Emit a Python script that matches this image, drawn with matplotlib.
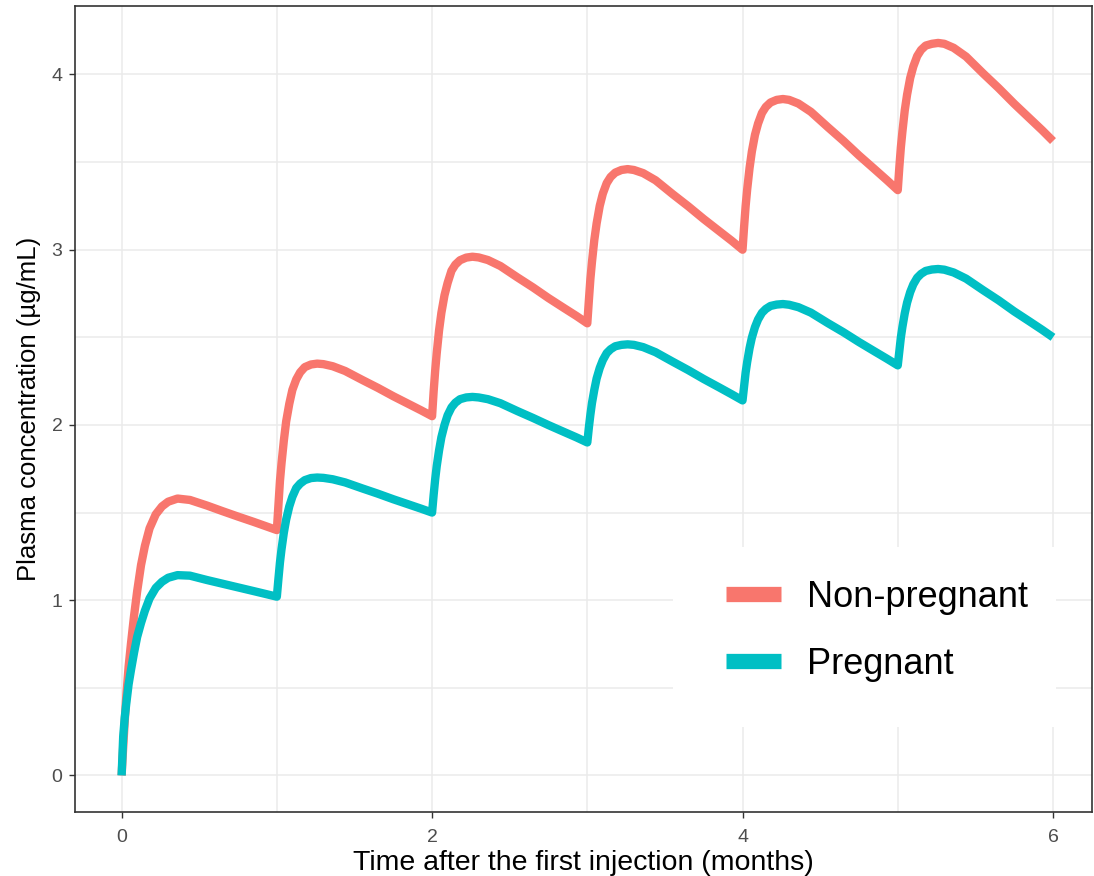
import matplotlib
matplotlib.use("Agg")
import matplotlib.pyplot as plt
from matplotlib.lines import Line2D
from matplotlib.patches import Rectangle
from matplotlib.ticker import MultipleLocator

# time after first injection (months)
months = [0.00, 0.01, 0.02, 0.03, 0.045, 0.06, 0.08, 0.10, 0.125, 0.15, 0.18, 0.22, 0.26, 0.30, 0.36, 0.44, 0.55, 0.65, 0.75, 0.85, 0.93,
          1.00, 1.01, 1.02, 1.03, 1.045, 1.06, 1.08, 1.10, 1.125, 1.15, 1.18, 1.22, 1.26, 1.30, 1.36, 1.44, 1.55, 1.65, 1.75, 1.85, 1.93,
          2.00, 2.01, 2.02, 2.03, 2.045, 2.06, 2.08, 2.10, 2.125, 2.15, 2.18, 2.22, 2.26, 2.30, 2.36, 2.44, 2.55, 2.65, 2.75, 2.85, 2.93,
          3.00, 3.01, 3.02, 3.03, 3.045, 3.06, 3.08, 3.10, 3.125, 3.15, 3.18, 3.22, 3.26, 3.30, 3.36, 3.44, 3.55, 3.65, 3.75, 3.85, 3.93,
          4.00, 4.01, 4.02, 4.03, 4.045, 4.06, 4.08, 4.10, 4.125, 4.15, 4.18, 4.22, 4.26, 4.30, 4.36, 4.44, 4.55, 4.65, 4.75, 4.85, 4.93,
          5.00, 5.01, 5.02, 5.03, 5.045, 5.06, 5.08, 5.10, 5.125, 5.15, 5.18, 5.22, 5.26, 5.30, 5.36, 5.44, 5.55, 5.65, 5.75, 5.85, 5.93,
          6.00]

# plasma concentration (ug/mL)
non_pregnant = [0.00, 0.16, 0.31, 0.45, 0.62, 0.75, 0.91, 1.05, 1.20, 1.31, 1.41, 1.49, 1.535, 1.562, 1.58, 1.572, 1.54, 1.508, 1.477, 1.447, 1.422,
                1.40, 1.54, 1.68, 1.78, 1.91, 2.02, 2.12, 2.20, 2.26, 2.30, 2.33, 2.345, 2.35, 2.347, 2.335, 2.308, 2.257, 2.212, 2.164, 2.119, 2.083,
                2.05, 2.19, 2.31, 2.41, 2.54, 2.64, 2.74, 2.81, 2.88, 2.915, 2.94, 2.955, 2.96, 2.956, 2.941, 2.907, 2.842, 2.785, 2.724, 2.667, 2.622,
                2.58, 2.71, 2.835, 2.93, 3.055, 3.15, 3.25, 3.32, 3.38, 3.415, 3.44, 3.455, 3.46, 3.455, 3.437, 3.396, 3.317, 3.248, 3.175, 3.106, 3.051,
                3.00, 3.13, 3.25, 3.345, 3.465, 3.56, 3.655, 3.72, 3.78, 3.815, 3.84, 3.855, 3.86, 3.855, 3.834, 3.787, 3.699, 3.621, 3.538, 3.46, 3.397,
                3.34, 3.47, 3.585, 3.675, 3.795, 3.885, 3.98, 4.045, 4.105, 4.14, 4.165, 4.175, 4.18, 4.175, 4.152, 4.102, 4.006, 3.922, 3.833, 3.749, 3.682,
                3.62]

pregnant = [0.00, 0.22, 0.33, 0.41, 0.52, 0.60, 0.70, 0.79, 0.87, 0.94, 1.01, 1.07, 1.105, 1.128, 1.143, 1.140, 1.115, 1.094, 1.073, 1.052, 1.035,
            1.02, 1.12, 1.215, 1.29, 1.385, 1.46, 1.535, 1.59, 1.64, 1.665, 1.685, 1.697, 1.70, 1.698, 1.69, 1.672, 1.638, 1.608, 1.576, 1.546, 1.522,
            1.50, 1.60, 1.69, 1.765, 1.855, 1.93, 2.00, 2.055, 2.10, 2.127, 2.147, 2.157, 2.16, 2.157, 2.147, 2.124, 2.079, 2.04, 1.999, 1.96, 1.929,
            1.90, 1.985, 2.06, 2.125, 2.20, 2.265, 2.325, 2.37, 2.41, 2.432, 2.449, 2.457, 2.46, 2.457, 2.444, 2.415, 2.361, 2.313, 2.262, 2.214, 2.175,
            2.14, 2.22, 2.30, 2.36, 2.437, 2.498, 2.558, 2.602, 2.64, 2.662, 2.679, 2.687, 2.69, 2.686, 2.672, 2.641, 2.581, 2.529, 2.473, 2.42, 2.378,
            2.34, 2.42, 2.50, 2.56, 2.637, 2.698, 2.758, 2.802, 2.84, 2.862, 2.879, 2.887, 2.89, 2.886, 2.87, 2.835, 2.769, 2.711, 2.648, 2.59, 2.543,
            2.50]

groups = ["Non-pregnant", "Pregnant"]
colors = ["#F8766D", "#00BFC4"]

plt.rcParams["font.family"] = ["Liberation Sans", "DejaVu Sans"]

fig = plt.figure(figsize=(10.94, 8.76), dpi=100)
ax = fig.add_axes([0.0686, 0.073, 0.9294, 0.920])

for ys, c in zip([non_pregnant, pregnant], colors):
    ax.plot(months, ys, color=c, lw=6, solid_capstyle="butt", solid_joinstyle="round")

ax.set_xlim(-0.3, 6.25)
ax.set_ylim(-0.209, 4.39)
ax.xaxis.set_major_locator(MultipleLocator(2))
ax.xaxis.set_minor_locator(MultipleLocator(1))
ax.yaxis.set_major_locator(MultipleLocator(1))
ax.yaxis.set_minor_locator(MultipleLocator(0.5))
ax.grid(which="major", color="#EBEBEB", lw=1.1)
ax.grid(which="minor", color="#EBEBEB", lw=1.1)
ax.set_axisbelow(True)
ax.tick_params(which="minor", length=0)
ax.tick_params(which="major", length=4, width=1, color="#333333",
               labelsize=14, labelcolor="#4D4D4D")
ax.tick_params(axis="x", pad=8)
ax.tick_params(axis="y", pad=5)
for s in ax.spines.values():
    s.set_color("#333333")
    s.set_linewidth(1.2)

ax.set_xlabel("Time after the first injection (months)", fontsize=20.5, labelpad=3)
ax.set_ylabel("Plasma concentration (\u00b5g/mL)", fontsize=18.5, labelpad=7.5)

# white legend background covering the grid
ax.add_patch(Rectangle((0.588, 0.1055), 0.3766, 0.2233, transform=ax.transAxes,
                       facecolor="white", edgecolor="none", zorder=2.5))
handles = [Line2D([], [], color=c, lw=11, solid_capstyle="butt") for c in colors]
leg = ax.legend(handles, groups, loc="center", bbox_to_anchor=(0.789, 0.225),
                fontsize=26, frameon=False, handlelength=1.53,
                handletextpad=0.72, labelspacing=0.89, borderpad=0.5)
leg.set_zorder(3)

fig.savefig("out.png", dpi=100)
